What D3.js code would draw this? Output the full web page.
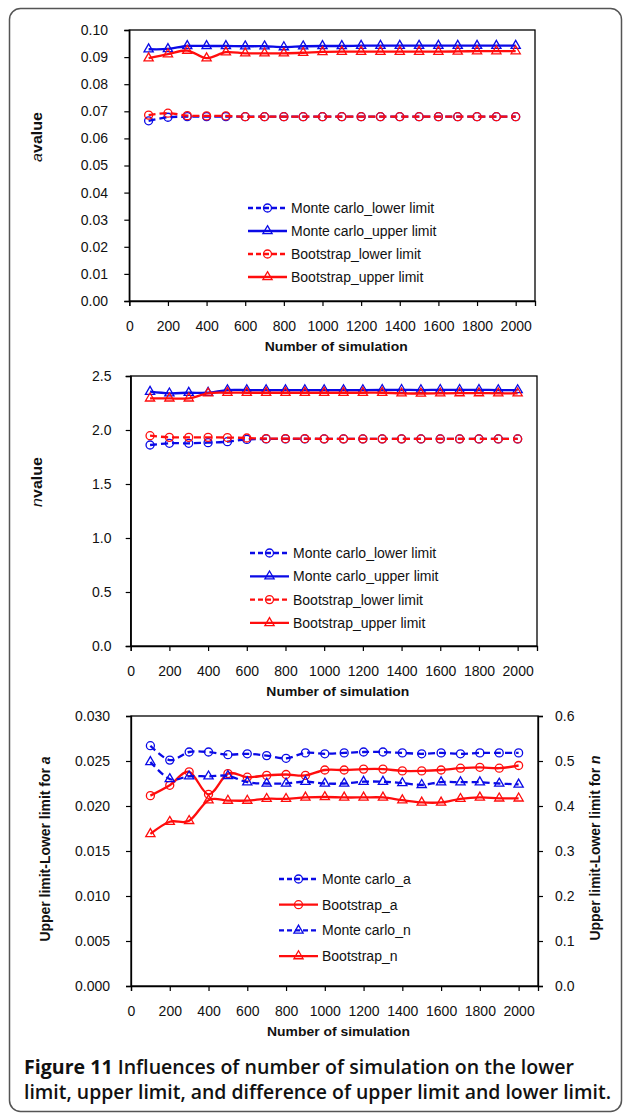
<!DOCTYPE html>
<html>
<head>
<meta charset="utf-8">
<script src="https://cdn.jsdelivr.net/npm/d3@7"></script>
<style>
  body { margin: 0; background: #fff; }
  svg { display: block; }
  text { font-family: 'Liberation Sans', Arial, sans-serif; fill: #111; }
</style>
</head>
<body>
<svg id="fig" width="625" height="1113"></svg>
<script>
// number of simulations (x categories)
const sims = [100, 200, 300, 400, 500, 600, 700, 800, 900, 1000,
  1100, 1200, 1300, 1400, 1500, 1600, 1700, 1800, 1900, 2000];

// panel 1: a value
const aMcLower = [0.0665, 0.0678, 0.0680, 0.0680, 0.0680, 0.0680, 0.0680, 0.0680, 0.0680, 0.0680,
  0.0680, 0.0680, 0.0680, 0.0680, 0.0680, 0.0680, 0.0680, 0.0680, 0.0680, 0.0680];
const aMcUpper = [0.0929, 0.0930, 0.0941, 0.0941, 0.0941, 0.0940, 0.0940, 0.0937, 0.0940, 0.0941,
  0.0941, 0.0942, 0.0942, 0.0942, 0.0942, 0.0942, 0.0942, 0.0942, 0.0942, 0.0942];
const aBsLower = [0.0686, 0.0693, 0.0684, 0.0683, 0.0683, 0.0680, 0.0680, 0.0680, 0.0680, 0.0680,
  0.0680, 0.0680, 0.0680, 0.0680, 0.0680, 0.0680, 0.0680, 0.0680, 0.0680, 0.0680];
const aBsUpper = [0.0896, 0.0911, 0.0924, 0.0896, 0.0918, 0.0914, 0.0914, 0.0914, 0.0916, 0.0919,
  0.0920, 0.0920, 0.0920, 0.0920, 0.0920, 0.0920, 0.0921, 0.0922, 0.0922, 0.0922];

// panel 2: n value
const nMcLower = [1.861, 1.877, 1.877, 1.883, 1.892, 1.913, 1.917, 1.917, 1.917, 1.917,
  1.917, 1.917, 1.917, 1.917, 1.917, 1.917, 1.917, 1.917, 1.917, 1.917];
const nMcUpper = [2.355, 2.340, 2.345, 2.345, 2.370, 2.370, 2.370, 2.370, 2.370, 2.370,
  2.370, 2.370, 2.372, 2.372, 2.370, 2.372, 2.372, 2.372, 2.370, 2.370];
const nBsLower = [1.947, 1.932, 1.932, 1.932, 1.930, 1.926, 1.920, 1.920, 1.920, 1.918,
  1.918, 1.918, 1.918, 1.918, 1.917, 1.917, 1.917, 1.917, 1.917, 1.917];
const nBsUpper = [2.293, 2.293, 2.293, 2.340, 2.345, 2.345, 2.345, 2.345, 2.345, 2.345,
  2.345, 2.345, 2.345, 2.340, 2.338, 2.340, 2.342, 2.342, 2.340, 2.340];

// panel 3: upper limit - lower limit
const dMcA = [0.0267, 0.0251, 0.0260, 0.0260, 0.0257, 0.0258, 0.0256, 0.0253, 0.0259, 0.0258,
  0.0259, 0.0260, 0.0260, 0.0259, 0.0258, 0.0259, 0.0258, 0.0259, 0.0259, 0.0259];
const dBsA = [0.02115, 0.0223, 0.0238, 0.0213, 0.0236, 0.0232, 0.0234, 0.0235, 0.0234, 0.0240,
  0.0240, 0.0241, 0.0241, 0.0239, 0.0239, 0.0240, 0.0242, 0.0243, 0.0242, 0.0245];
const dMcN = [0.498, 0.460, 0.466, 0.466, 0.467, 0.453, 0.450, 0.450, 0.454, 0.450,
  0.450, 0.454, 0.454, 0.451, 0.447, 0.453, 0.453, 0.453, 0.450, 0.448];
const dBsN = [0.338, 0.365, 0.367, 0.413, 0.412, 0.412, 0.416, 0.416, 0.419, 0.420,
  0.419, 0.419, 0.419, 0.413, 0.408, 0.408, 0.416, 0.419, 0.417, 0.417];

// tick labels
const xTicks = [0, 200, 400, 600, 800, 1000, 1200, 1400, 1600, 1800, 2000];
const aTicks = [0, 0.01, 0.02, 0.03, 0.04, 0.05, 0.06, 0.07, 0.08, 0.09, 0.10];
const nTicks = [0, 0.5, 1.0, 1.5, 2.0, 2.5];
const dATicks = [0, 0.005, 0.010, 0.015, 0.020, 0.025, 0.030];
const dNTicks = [0, 0.1, 0.2, 0.3, 0.4, 0.5, 0.6];

const BLUE = '#0a0ae6', RED = '#ff0d0d';
const svg = d3.select('#fig');

// rounded frame round the figure
svg.append('rect')
  .attr('x', 9.5).attr('y', 8.5)
  .attr('width', 612).attr('height', 1103)
  .attr('rx', 11)
  .attr('fill', 'none').attr('stroke', '#555').attr('stroke-width', 1.5);

function drawMarker(sel, shape, color, size) {
  if (shape === 'circle') {
    sel.append('circle').attr('r', size).attr('fill', 'none')
      .attr('stroke', color).attr('stroke-width', 1.3);
  } else {
    sel.append('path').attr('d', d3.symbol(d3.symbolTriangle, size * size * 2.3)())
      .attr('fill', 'none').attr('stroke', color).attr('stroke-width', 1.3);
  }
}

function panel(p) {
  const x = d3.scaleLinear().domain([0, 2100]).range([p.left, p.right]);
  const y = d3.scaleLinear().domain(p.yDomain).range([p.bottom, p.top]);
  const y2 = p.y2Domain ? d3.scaleLinear().domain(p.y2Domain).range([p.bottom, p.top]) : null;
  const g = svg.append('g');

  g.append('rect')
    .attr('x', p.left).attr('y', p.top)
    .attr('width', p.right - p.left).attr('height', p.bottom - p.top)
    .attr('fill', 'none').attr('stroke', '#000').attr('stroke-width', 1.3);

  const xAxis = g.append('g')
    .attr('transform', `translate(0,${p.bottom})`)
    .call(d3.axisBottom(x).tickValues(xTicks).tickSize(5).tickFormat(d3.format('d')));
  xAxis.selectAll('text').attr('y', 25).attr('dy', '0.35em');

  const yAxis = g.append('g')
    .attr('transform', `translate(${p.left},0)`)
    .call(d3.axisLeft(y).tickValues(p.yTicks).tickSize(5).tickFormat(d3.format(p.yFmt)));
  yAxis.selectAll('text').attr('x', p.labelRight - p.left);

  if (y2) {
    const y2Axis = g.append('g')
      .attr('transform', `translate(${p.right},0)`)
      .call(d3.axisRight(y2).tickValues(p.y2Ticks).tickSize(5).tickFormat(d3.format(p.y2Fmt)));
    y2Axis.selectAll('text').attr('x', 17);
  }

  g.selectAll('.domain').attr('stroke', '#000').attr('stroke-width', 1.3);
  g.selectAll('.tick line').attr('stroke', '#000').attr('stroke-width', 1.2);
  g.selectAll('.tick text')
    .style('font-family', "'Liberation Sans', Arial, sans-serif")
    .style('font-size', '14px').attr('fill', '#111');

  // axis titles
  g.append('text')
    .attr('x', (p.left + p.right) / 2 + 4).attr('y', p.bottom + 50)
    .attr('text-anchor', 'middle').attr('font-weight', 'bold')
    .attr('font-size', 13.5).attr('textLength', 143).attr('lengthAdjust', 'spacingAndGlyphs')
    .text('Number of simulation');

  p.titles.forEach(t => {
    const tt = g.append('text')
      .attr('transform', `translate(${t.x},${t.y}) rotate(-90)`)
      .attr('text-anchor', 'middle').attr('font-size', 14.5)
      .attr('textLength', t.len).attr('lengthAdjust', 'spacingAndGlyphs');
    t.parts.forEach(([txt, italic, bold]) => {
      tt.append('tspan').text(txt)
        .attr('font-style', italic ? 'italic' : 'normal')
        .attr('font-weight', bold ? 'bold' : 'normal');
    });
  });

  // series
  p.series.forEach(s => {
    const ys = s.right ? y2 : y;
    const pts = sims.map((v, i) => [x(v), ys(s.values[i])]);
    g.append('path')
      .attr('d', d3.line().curve(d3.curveCardinal.tension(0))(pts))
      .attr('fill', 'none').attr('stroke', s.color).attr('stroke-width', 2.3)
      .attr('stroke-dasharray', s.dashed ? '7,4' : null);
    pts.forEach(pt => {
      const m = g.append('g').attr('transform', `translate(${pt[0]},${pt[1]})`);
      drawMarker(m, s.marker, s.color, p.markerSize);
    });
  });

  // legend
  p.series.forEach((s, i) => {
    const ly = p.legend.y + i * p.legend.dy;
    g.append('line')
      .attr('x1', p.legend.x).attr('x2', p.legend.x + 39)
      .attr('y1', ly).attr('y2', ly)
      .attr('stroke', s.color).attr('stroke-width', 2.3)
      .attr('stroke-dasharray', s.dashed ? '5,3' : null);
    const m = g.append('g').attr('transform', `translate(${p.legend.x + 19.5},${ly})`);
    drawMarker(m, s.marker, s.color, p.markerSize);
    g.append('text')
      .attr('x', p.legend.x + 43).attr('y', ly).attr('dy', '0.35em')
      .attr('font-size', 14).text(s.name);
  });
}

panel({
  left: 129.3, right: 535, top: 30, bottom: 301, labelRight: 108,
  yDomain: [0, 0.10], yTicks: aTicks, yFmt: '.2f', markerSize: 4,
  titles: [{x: 42, y: 137, len: 50, parts: [['a', true, false], ['value', false, true]]}],
  legend: {x: 248, y: 208, dy: 23},
  series: [
    {name: 'Monte carlo_lower  limit', values: aMcLower, color: BLUE, dashed: true, marker: 'circle'},
    {name: 'Monte carlo_upper  limit', values: aMcUpper, color: BLUE, dashed: false, marker: 'triangle'},
    {name: 'Bootstrap_lower limit', values: aBsLower, color: RED, dashed: true, marker: 'circle'},
    {name: 'Bootstrap_upper limit', values: aBsUpper, color: RED, dashed: false, marker: 'triangle'}
  ]
});

panel({
  left: 130.7, right: 537, top: 376, bottom: 646, labelRight: 111.5,
  yDomain: [0, 2.5], yTicks: nTicks, yFmt: '.1f', markerSize: 4,
  titles: [{x: 42, y: 482, len: 50, parts: [['n', true, false], ['value', false, true]]}],
  legend: {x: 250, y: 553, dy: 23.3},
  series: [
    {name: 'Monte carlo_lower  limit', values: nMcLower, color: BLUE, dashed: true, marker: 'circle'},
    {name: 'Monte carlo_upper  limit', values: nMcUpper, color: BLUE, dashed: false, marker: 'triangle'},
    {name: 'Bootstrap_lower limit', values: nBsLower, color: RED, dashed: true, marker: 'circle'},
    {name: 'Bootstrap_upper limit', values: nBsUpper, color: RED, dashed: false, marker: 'triangle'}
  ]
});

panel({
  left: 131, right: 538, top: 716, bottom: 986, labelRight: 110,
  yDomain: [0, 0.030], yTicks: dATicks, yFmt: '.3f',
  y2Domain: [0, 0.6], y2Ticks: dNTicks, y2Fmt: '.1f', markerSize: 4,
  titles: [
    {x: 50, y: 849, len: 185, parts: [['Upper limit-Lower limit for ', false, true], ['a', true, true]]},
    {x: 600, y: 848, len: 185, parts: [['Upper limit-Lower limit for ', false, true], ['n', true, true]]}
  ],
  legend: {x: 279, y: 879, dy: 25.7},
  series: [
    {name: 'Monte carlo_a', values: dMcA, color: BLUE, dashed: true, marker: 'circle'},
    {name: 'Bootstrap_a', values: dBsA, color: RED, dashed: false, marker: 'circle'},
    {name: 'Monte carlo_n', values: dMcN, color: BLUE, dashed: true, marker: 'triangle', right: true},
    {name: 'Bootstrap_n', values: dBsN, color: RED, dashed: false, marker: 'triangle', right: true}
  ]
});

// caption
const cap1 = svg.append('text')
  .attr('x', 24).attr('y', 1074)
  .attr('font-size', 19.5).attr('textLength', 550).attr('lengthAdjust', 'spacingAndGlyphs')
  .style('font-family', "'Open Sans', 'Noto Sans', sans-serif");
cap1.append('tspan').attr('font-weight', 'bold').text('Figure 11');
cap1.append('tspan').attr('font-weight', 600).text(' Influences of number of simulation on the lower');
svg.append('text')
  .attr('x', 24).attr('y', 1099)
  .attr('font-size', 19.5).attr('textLength', 587).attr('lengthAdjust', 'spacingAndGlyphs')
  .attr('font-weight', 600)
  .style('font-family', "'Open Sans', 'Noto Sans', sans-serif")
  .text('limit, upper limit, and difference of upper limit and lower limit.');
</script>
</body>
</html>
